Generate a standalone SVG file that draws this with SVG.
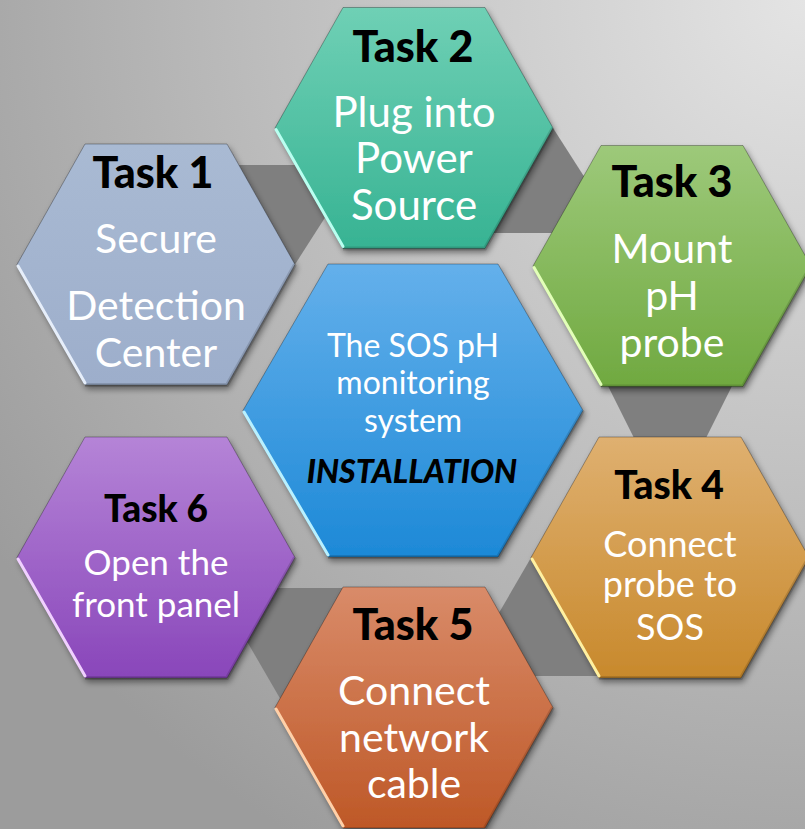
<svg xmlns="http://www.w3.org/2000/svg" width="805" height="829" viewBox="0 0 805 829">
<defs>
<radialGradient id="bg" cx="805" cy="0" r="980" gradientUnits="userSpaceOnUse">
<stop offset="0" stop-color="#e4e4e4"/>
<stop offset="0.55" stop-color="#bdbdbd"/>
<stop offset="1" stop-color="#9c9c9c"/>
</radialGradient>
<linearGradient id="g1" x1="0" y1="0" x2="0" y2="1"><stop offset="0" stop-color="#a9bad3"/><stop offset="1" stop-color="#9daecb"/></linearGradient>
<linearGradient id="g2" x1="0" y1="0" x2="0" y2="1"><stop offset="0" stop-color="#6fd0b5"/><stop offset="1" stop-color="#37b393"/></linearGradient>
<linearGradient id="g3" x1="0" y1="0" x2="0" y2="1"><stop offset="0" stop-color="#9dc97a"/><stop offset="1" stop-color="#70a940"/></linearGradient>
<linearGradient id="g4" x1="0" y1="0" x2="0" y2="1"><stop offset="0" stop-color="#dfb070"/><stop offset="1" stop-color="#c8892c"/></linearGradient>
<linearGradient id="g5" x1="0" y1="0" x2="0" y2="1"><stop offset="0" stop-color="#d98b69"/><stop offset="1" stop-color="#be5827"/></linearGradient>
<linearGradient id="g6" x1="0" y1="0" x2="0" y2="1"><stop offset="0" stop-color="#b584d7"/><stop offset="1" stop-color="#8946ba"/></linearGradient>
<linearGradient id="gc" x1="0" y1="0" x2="0" y2="1"><stop offset="0" stop-color="#64b0eb"/><stop offset="1" stop-color="#1d89d7"/></linearGradient>
<filter id="sh" x="-10%" y="-10%" width="125%" height="130%">
<feDropShadow dx="2" dy="4" stdDeviation="3" flood-color="#000" flood-opacity="0.45"/>
</filter>
</defs>
<style>
.hex{stroke:#000;stroke-opacity:0.3;stroke-width:1;filter:url(#sh)}
.hl{fill:none;stroke-width:3;stroke-linecap:round}
.dk{fill:none;stroke:#000;stroke-opacity:0.14;stroke-width:4}
.conn{fill:#7f7f7f}
.h{font-family:Lato,"Open Sans",sans-serif;font-weight:900;fill:#000;text-anchor:middle}
.b{font-family:Lato,"Open Sans",sans-serif;fill:#fff;text-anchor:middle}
.ins{font-family:Lato,"Open Sans",sans-serif;font-weight:900;font-style:italic;fill:#000;text-anchor:middle}
</style>
<rect width="805" height="829" fill="url(#bg)"/>
<g id="connectors">
<polygon class="conn" points="220,165 310,165 326,216 294,266 250,266"/>
<polygon class="conn" points="490,233 540,128 553,128 585,178 560,233"/>
<polygon class="conn" points="605,380 735,380 706,438 634,438"/>
<polygon class="conn" points="532,556 496,618 520,676 600,676 560,556"/>
<polygon class="conn" points="270,588 350,588 285,707 245,638"/>
</g>
<g id="task1">
<polygon class="hex" fill="url(#g1)" points="85,144 227,144 295,264.5 227,385 85,385 17,264.5"/>
<polyline class="dk" points="295,264.5 227,385 85,385"/>
<polyline class="hl" stroke="#e6eefa" points="18,266 85,383"/>
<text class="h" x="153" y="188" font-size="43">Task 1</text>
<text class="b" x="156" y="253" font-size="41">Secure</text>
<text class="b" x="156" y="320" font-size="41">Detection</text>
<text class="b" x="156" y="367" font-size="41">Center</text>
</g>
<g id="task2">
<polygon class="hex" fill="url(#g2)" points="343,7.5 485,7.5 553,128 485,248.5 343,248.5 275,128"/>
<polyline class="dk" points="553,128 485,248.5 343,248.5"/>
<polyline class="hl" stroke="#b9fff0" points="276,129.5 343,246.5"/>
<text class="h" x="413" y="62" font-size="43">Task 2</text>
<text class="b" x="414" y="127" font-size="42">Plug into</text>
<text class="b" x="414" y="173" font-size="42">Power</text>
<text class="b" x="414" y="220" font-size="42">Source</text>
</g>
<g id="task3">
<polygon class="hex" fill="url(#g3)" points="601,145.5 743,145.5 811,266 743,386.5 601,386.5 533,266"/>
<polyline class="dk" points="811,266 743,386.5 601,386.5"/>
<polyline class="hl" stroke="#e2ffb8" points="534,267.5 601,384.5"/>
<text class="h" x="672" y="197" font-size="43">Task 3</text>
<text class="b" x="672" y="263" font-size="41">Mount</text>
<text class="b" x="672" y="310" font-size="41">pH</text>
<text class="b" x="672" y="357" font-size="41">probe</text>
</g>
<g id="task4">
<polygon class="hex" fill="url(#g4)" points="599,437 741,437 809,557.5 741,678 599,678 531,557.5"/>
<polyline class="dk" points="809,557.5 741,678 599,678"/>
<polyline class="hl" stroke="#fff0a0" points="532,559 599,676"/>
<text class="h" x="669" y="499" font-size="39">Task 4</text>
<text class="b" x="670" y="557" font-size="36">Connect</text>
<text class="b" x="670" y="597" font-size="36">probe to</text>
<text class="b" x="670" y="640" font-size="36">SOS</text>
</g>
<g id="task5">
<polygon class="hex" fill="url(#g5)" points="343,587 485,587 553,707.5 485,828 343,828 275,707.5"/>
<polyline class="dk" points="553,707.5 485,828"/>
<polyline class="hl" stroke="#ffd0a8" points="276,709 343,826"/>
<text class="h" x="413" y="640" font-size="43">Task 5</text>
<text class="b" x="414" y="705" font-size="41">Connect</text>
<text class="b" x="414" y="752" font-size="41">network</text>
<text class="b" x="414" y="798" font-size="41">cable</text>
</g>
<g id="task6">
<polygon class="hex" fill="url(#g6)" points="85,437 227,437 295,557.5 227,678 85,678 17,557.5"/>
<polyline class="dk" points="295,557.5 227,678 85,678"/>
<polyline class="hl" stroke="#f0d0ff" points="18,559 85,676"/>
<text class="h" x="156" y="522" font-size="37">Task 6</text>
<text class="b" x="156" y="575" font-size="35">Open the</text>
<text class="b" x="156" y="617" font-size="35">front panel</text>
</g>
<g id="center">
<polygon class="hex" fill="url(#gc)" points="328,264 498,264 583,410.5 498,557 328,557 243,410.5"/>
<polyline class="dk" points="583,410.5 498,557 328,557"/>
<polyline class="hl" stroke="#b8f0ff" points="244,412 328,555"/>
<text class="b" x="413" y="357" font-size="32">The SOS pH</text>
<text class="b" x="413" y="394" font-size="32">monitoring</text>
<text class="b" x="413" y="432" font-size="32">system</text>
<text class="ins" x="412" y="483" font-size="32">INSTALLATION</text>
</g>
</svg>
